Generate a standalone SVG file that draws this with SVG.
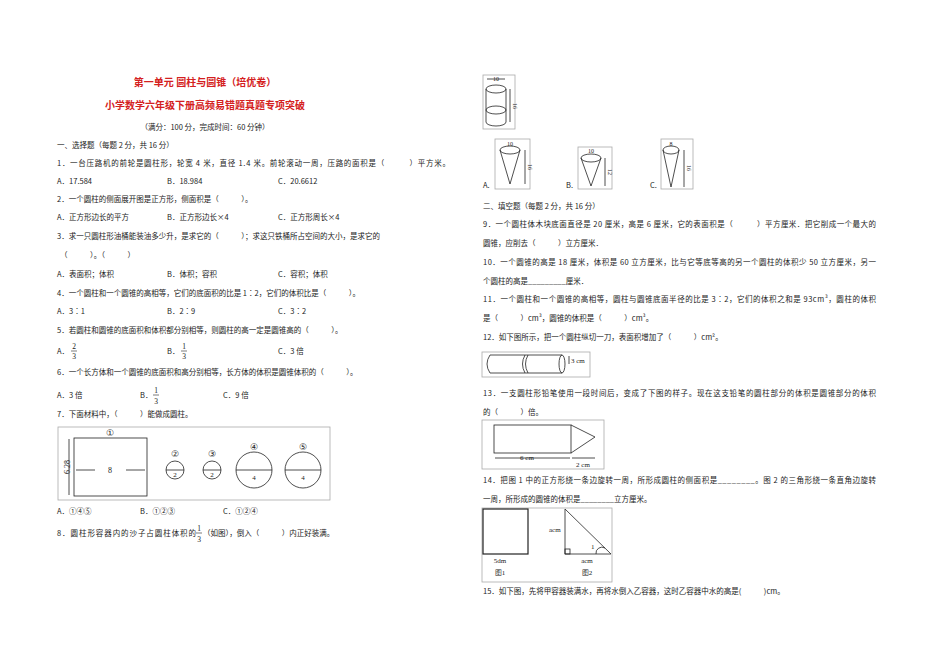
<svg xmlns="http://www.w3.org/2000/svg" width="950" height="672" viewBox="0 0 950 672">
<style>
text{font-family:"Noto Sans CJK SC","Liberation Sans",sans-serif;font-size:7.5px;fill:#222}
.t{fill:#d42020;font-size:10px;text-anchor:middle;font-weight:bold}
.s{font-family:"Liberation Serif",serif}
.f{fill:none;stroke:#222;stroke-width:0.8}
.b{fill:none;stroke:#aaa;stroke-width:0.8}
.m{text-anchor:middle}
</style>
<rect width="950" height="672" fill="#fff"/>
<g id="left">
<text class="t" x="205" y="86">第一单元 圆柱与圆锥（培优卷）</text>
<text class="t" x="205" y="109">小学数学六年级下册高频易错题真题专项突破</text>
<text class="m" x="205" y="130">（满分：100 分，完成时间：60 分钟）</text>
<text x="57" y="148">一、选择题（每题 2 分，共 16 分）</text>
<text x="57" y="166" textLength="393">1．一台压路机的前轮是圆柱形，轮宽 4 米，直径 1.4 米。前轮滚动一周，压路的面积是（　　　）平方米。</text>
<text x="57" y="184">A．17.584</text><text x="167" y="184">B．18.984</text><text x="278" y="184">C．20.6612</text>
<text x="57" y="202">2．一个圆柱的侧面展开图是正方形，侧面积是（　　　）。</text>
<text x="57" y="220">A．正方形边长的平方</text><text x="167" y="220">B．正方形边长×4</text><text x="278" y="220">C．正方形周长×4</text>
<text x="57" y="239">3．求一只圆柱形油桶能装油多少升，是求它的（　　　）；求这只铁桶所占空间的大小，是求它的</text>
<text x="60" y="258">（　　　）。（　　　）</text>
<text x="57" y="277">A．表面积；体积</text><text x="167" y="277">B．体积；容积</text><text x="278" y="277">C．容积；体积</text>
<text x="57" y="296">4．一个圆柱和一个圆锥的高相等，它们的底面积的比是 1∶2，它们的体积比是（　　　）。</text>
<text x="57" y="314">A．3∶1</text><text x="167" y="314">B．2∶9</text><text x="278" y="314">C．3∶2</text>
<text x="57" y="333">5．若圆柱和圆锥的底面积和体积都分别相等，则圆柱的高一定是圆锥高的（　　　）。</text>
<text x="57" y="354">A．</text><text class="m s" x="74" y="349">2</text><line x1="71" y1="351" x2="77" y2="351" stroke="#222" stroke-width="0.6"/><text class="m s" x="74" y="359">3</text>
<text x="167" y="354">B．</text><text class="m s" x="184" y="349">1</text><line x1="181" y1="351" x2="187" y2="351" stroke="#222" stroke-width="0.6"/><text class="m s" x="184" y="359">3</text>
<text x="278" y="354">C．3 倍</text>
<text x="57" y="375">6．一个长方体和一个圆锥的底面积和高分别相等，长方体的体积是圆锥体积的（　　　）。</text>
<text x="57" y="398">A．3 倍</text>
<text x="140" y="398">B．</text><text class="m s" x="156" y="393">1</text><line x1="153" y1="395" x2="159" y2="395" stroke="#222" stroke-width="0.6"/><text class="m s" x="156" y="404">3</text>
<text x="223" y="398">C．9 倍</text>
<text x="57" y="417">7．下面材料中，（　　　）能做成圆柱。</text>
<text x="57" y="514">A．①④⑤</text><text x="140" y="514">B．①②③</text><text x="223" y="514">C．①②④</text>
<text x="57" y="536" textLength="139">8．圆柱形容器内的沙子占圆柱体积的</text><text class="m s" x="199" y="531">1</text><line x1="196" y1="533" x2="202" y2="533" stroke="#222" stroke-width="0.6"/><text class="m s" x="199" y="542">3</text><text x="203" y="536">（如图），倒入（　　　）内正好装满。</text>
</g>
<g id="fig7">
<rect class="b" x="58" y="427" width="272" height="73"/>
<rect class="f" x="74" y="438" width="73" height="58"/>
<text class="m s" x="110" y="436" style="font-size:9px">①</text>
<line class="f" x1="69" y1="439" x2="69" y2="495"/>
<text class="s" style="font-size:8px" transform="translate(70,467) rotate(-90)" text-anchor="middle">6.28</text>
<line class="f" x1="76" y1="470" x2="95" y2="470"/><line class="f" x1="126" y1="470" x2="145" y2="470"/>
<text class="m s" x="110" y="473" style="font-size:8px">8</text>
<circle class="f" cx="175" cy="470" r="9"/><line class="f" x1="166" y1="470" x2="184" y2="470"/><text class="m s" x="175" y="477" style="font-size:7px">2</text><text class="m s" x="175" y="457" style="font-size:9px">②</text>
<circle class="f" cx="212" cy="470" r="9"/><line class="f" x1="203" y1="470" x2="221" y2="470"/><text class="m s" x="212" y="477" style="font-size:7px">2</text><text class="m s" x="212" y="457" style="font-size:9px">③</text>
<circle class="f" cx="254" cy="470" r="18"/><line class="f" x1="236" y1="470" x2="272" y2="470"/><text class="m s" x="254" y="480" style="font-size:7px">4</text><text class="m s" x="254" y="450" style="font-size:9px">④</text>
<circle class="f" cx="303" cy="470" r="18"/><line class="f" x1="285" y1="470" x2="321" y2="470"/><text class="m s" x="303" y="480" style="font-size:7px">4</text><text class="m s" x="303" y="450" style="font-size:9px">⑤</text>
</g>
<g id="fig8">
<rect class="b" x="483" y="75" width="32" height="54"/>
<ellipse class="f" cx="496" cy="89" rx="10" ry="4"/><ellipse class="f" cx="496" cy="110" rx="10" ry="4"/>
<line class="f" x1="486" y1="89" x2="486" y2="122"/><line class="f" x1="506" y1="89" x2="506" y2="122"/>
<path class="f" d="M486 122 A10 4 0 0 0 506 122"/>
<line class="f" x1="487" y1="79" x2="505" y2="79"/><text class="m s" x="496" y="81" style="font-size:6px">10</text>
<line class="f" x1="510" y1="89" x2="510" y2="122"/><text class="s" transform="translate(513,106) rotate(90)" text-anchor="middle" style="font-size:6px">16</text>
<text x="483" y="188">A.</text>
<rect class="b" x="495" y="139" width="35" height="50"/>
<ellipse class="f" cx="510" cy="150" rx="10" ry="4"/><path class="f" d="M500 150 L510 184 L520 150"/>
<text class="m s" x="510" y="146" style="font-size:6px">10</text><line class="f" x1="525" y1="150" x2="525" y2="184"/><text class="s" transform="translate(528,167) rotate(90)" text-anchor="middle" style="font-size:6px">16</text>
<text x="566" y="188">B.</text>
<rect class="b" x="578" y="147" width="34" height="42"/>
<ellipse class="f" cx="591" cy="158" rx="10" ry="4"/><path class="f" d="M581 158 L591 186 L601 158"/>
<text class="m s" x="591" y="153" style="font-size:6px">10</text><line class="f" x1="605" y1="158" x2="605" y2="186"/><text class="s" transform="translate(608,172) rotate(90)" text-anchor="middle" style="font-size:6px">12</text>
<text x="650" y="188">C.</text>
<rect class="b" x="661" y="139" width="32" height="50"/>
<ellipse class="f" cx="671" cy="150" rx="8" ry="4"/><path class="f" d="M663 150 L671 187 L679 150"/>
<text class="m s" x="671" y="146" style="font-size:6px">8</text><line class="f" x1="684" y1="150" x2="684" y2="187"/><text class="s" transform="translate(687,168) rotate(90)" text-anchor="middle" style="font-size:6px">16</text>
</g>
<g id="right">
<text x="483" y="209">二、填空题（每题 2 分，共 16 分）</text>
<text x="483" y="227" textLength="393">9．一个圆柱体木块底面直径是 20 厘米，高是 6 厘米，它的表面积是（　　　）平方厘米．把它削成一个最大的</text>
<text x="483" y="246">圆锥，应削去（　　　）立方厘米．</text>
<text x="483" y="265" textLength="393">10．一个圆锥的高是 18 厘米，体积是 60 立方厘米，比与它等底等高的另一个圆柱的体积少 50 立方厘米，另一</text>
<text x="483" y="284">个圆柱的高是_________厘米．</text>
<text x="483" y="302" textLength="393">11．一个圆柱和一个圆锥的高相等，圆柱与圆锥底面半径的比是 3∶2，它们的体积之和是 93cm³，圆柱的体积</text>
<text x="483" y="321">是（　　　）cm³，圆锥的体积是（　　　）cm³。</text>
<text x="483" y="340">12．如下图所示，把一个圆柱纵切一刀，表面积增加了（　　　）cm²。</text>
<text x="483" y="396" textLength="393">13．一支圆柱形铅笔使用一段时间后，变成了下图的样子。现在这支铅笔的圆柱部分的体积是圆锥部分的体积</text>
<text x="483" y="415">的（　　　）倍。</text>
<text x="483" y="483" textLength="393">14．把图 1 中的正方形绕一条边旋转一周，所形成圆柱的侧面积是________。图 2 的三角形绕一条直角边旋转</text>
<text x="483" y="502">一周，所形成的圆锥的体积是________立方厘米。</text>
<text x="483" y="594">15．如下图，先将甲容器装满水，再将水倒入乙容器，这时乙容器中水的高是(　　　)cm。</text>
</g>
<g id="fig12">
<rect class="b" x="482" y="352" width="108" height="25"/>
<path class="f" d="M490 355 L562 355 M490 373 L562 373 M490 355 Q484 364 490 373 M525 355 Q520 364 525 373 M528 355 Q523 364 528 373"/>
<ellipse class="f" cx="562" cy="364" rx="3" ry="9"/>
<line class="f" x1="569" y1="356" x2="569" y2="364"/><text class="s" x="571" y="363" style="font-size:7px">3 cm</text>
</g>
<g id="fig13">
<rect class="b" x="482" y="420" width="122" height="49"/>
<rect class="f" x="494" y="425" width="77" height="28"/><path class="f" d="M571 425 L595 437 L571 453"/>
<line class="f" x1="495" y1="458" x2="570" y2="458"/><line class="f" x1="572" y1="458" x2="595" y2="458"/>
<text class="m s" x="527" y="460" style="font-size:7px">6 cm</text>
<text class="m s" x="583" y="467" style="font-size:7px">2 cm</text>
</g>
<g id="fig14">
<rect class="b" x="482" y="508" width="130" height="74"/>
<rect x="483" y="509" width="45" height="45" fill="none" stroke="#222" stroke-width="1.2"/>
<text class="m s" x="500" y="563" style="font-size:7px">5dm</text><text class="m s" x="500" y="575" style="font-size:7px">图1</text>
<path class="f" d="M565 509 L565 554 L611 554 Z"/><rect class="f" x="565" y="549" width="5" height="5"/>
<path class="f" d="M596 554 A6 6 0 0 1 605 548"/>
<text class="s" x="591" y="549" style="font-size:7px">1</text>
<text class="s" x="549" y="532" style="font-size:7px">acm</text>
<text class="m s" x="587" y="563" style="font-size:7px">acm</text><text class="m s" x="587" y="575" style="font-size:7px">图2</text>
</g>
</svg>
